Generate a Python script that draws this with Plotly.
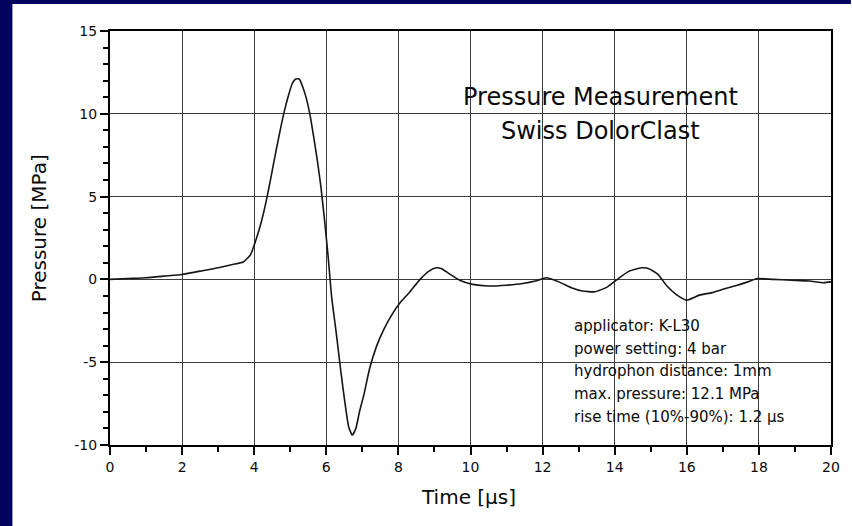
import plotly.graph_objects as go

# ---- data ----
time_us = [0, 0.5, 1.0, 1.5, 2.0, 2.5, 3.0, 3.4, 3.7, 3.9, 4.05, 4.2, 4.33, 4.45, 4.6, 4.72,
           4.83, 4.95, 5.05, 5.15, 5.25, 5.35, 5.45, 5.55, 5.65, 5.75, 5.85, 5.95, 6.05, 6.15,
           6.28, 6.4, 6.52, 6.62, 6.72, 6.82, 6.92, 7.05, 7.2, 7.4, 7.6, 7.8, 8.05, 8.3, 8.6,
           8.85, 9.05, 9.2, 9.4, 9.7, 10.06, 10.5, 11.0, 11.45, 11.8, 12.1, 12.45, 12.8, 13.1,
           13.45, 13.8, 14.1, 14.4, 14.75, 14.95, 15.2, 15.45, 15.7, 16.0, 16.35, 16.7, 17.0,
           17.4, 17.7, 17.95, 18.4, 18.9, 19.4, 19.8, 20.0]
pressure_mpa = [0.0, 0.05, 0.1, 0.2, 0.3, 0.5, 0.7, 0.9, 1.05, 1.5, 2.4, 3.5, 4.7, 6.0, 7.7, 9.0,
                10.1, 11.1, 11.8, 12.1, 12.1, 11.6, 10.9, 9.9, 8.6, 7.2, 5.6, 3.6, 1.4, -1.1,
                -3.3, -5.5, -7.5, -8.9, -9.4, -9.0, -8.0, -6.9, -5.4, -4.0, -3.0, -2.2, -1.4, -0.8, 0.0,
                0.5, 0.7, 0.65, 0.35, -0.05, -0.3, -0.4, -0.35, -0.25, -0.1, 0.1, -0.15, -0.5, -0.7,
                -0.75, -0.45, 0.05, 0.5, 0.7, 0.65, 0.3, -0.4, -0.9, -1.25, -0.95, -0.8, -0.6,
                -0.35, -0.15, 0.05, 0.0, -0.05, -0.1, -0.2, -0.15]

x_ticks = [0, 2, 4, 6, 8, 10, 12, 14, 16, 18, 20]
x_tick_text = ["0", "2", "4", "6", "8", "10", "12", "14", "16", "18", "20"]
y_ticks = [-10, -5, 0, 5, 10, 15]
y_tick_text = ["-10", "-5", "0", "5", "10", "15"]
title_lines = ["Pressure Measurement", "Swiss DolorClast"]
info_lines = ["applicator: K-L30", "power setting: 4 bar", "hydrophon distance: 1mm",
              "max. pressure: 12.1 MPa", "rise time (10%-90%): 1.2 µs"]
x_title = "Time [µs]"
y_title = "Pressure [MPa]"

# ---- layout geometry (pixels) ----
W, H = 852, 526
L, R, T, B = 110, 834, 31, 445
pw, ph = R - L, B - T


def px(xp):
    return (xp - L) / pw


def py(yp):
    return (B - yp) / ph


FONT = "DejaVu Sans"
NAVY = "#02025F"
INK = "#0a0a0a"

fig = go.Figure()
fig.add_trace(go.Scatter(x=time_us, y=pressure_mpa, mode="lines",
                         line=dict(color="#151515", width=1.6, shape="spline", smoothing=0.5),
                         showlegend=False, hoverinfo="skip"))

axis_common = dict(showline=True, linecolor="#000000", linewidth=2, mirror=True,
                   ticks="outside", tickcolor="#000000", tickwidth=1.5,
                   showgrid=True, gridcolor="#3c3c3c", gridwidth=1.2, zeroline=False,
                   tickfont=dict(family=FONT, size=14, color=INK))

fig.update_xaxes(range=[0, 20], tickvals=x_ticks, ticktext=x_tick_text, ticklen=8,
                 minor=dict(dtick=1, ticklen=5, tickcolor="#000000", ticks="outside", showgrid=False),
                 **axis_common)
fig.update_yaxes(range=[-10, 15], tickvals=y_ticks, ticktext=y_tick_text, ticklen=8,
                 minor=dict(dtick=1, ticklen=5, tickcolor="#000000", ticks="outside", showgrid=False),
                 **axis_common)

annotations = []
annotations.append(dict(text=x_title, x=px(470), y=py(497), xref="paper", yref="paper",
                        showarrow=False, font=dict(family=FONT, size=20, color=INK),
                        xanchor="center", yanchor="middle"))
annotations.append(dict(text=y_title, x=px(39), y=py(228), xref="paper", yref="paper",
                        showarrow=False, textangle=-90, font=dict(family=FONT, size=20, color=INK),
                        xanchor="center", yanchor="middle"))
for line, ypix in zip(title_lines, [97, 131]):
    annotations.append(dict(text=line, x=px(603), y=py(ypix), xref="paper", yref="paper",
                            showarrow=False, font=dict(family=FONT, size=24, color=INK),
                            xanchor="center", yanchor="middle"))
for i, line in enumerate(info_lines):
    annotations.append(dict(text=line, x=px(574), y=py(326 + 22.7 * i), xref="paper", yref="paper",
                            showarrow=False, font=dict(family=FONT, size=15, color=INK),
                            xanchor="left", yanchor="middle"))

shapes = [
    dict(type="rect", xref="paper", yref="paper", x0=px(-2), x1=px(12), y0=py(H + 2), y1=py(-2),
         fillcolor=NAVY, line=dict(width=0), layer="below"),
    dict(type="rect", xref="paper", yref="paper", x0=px(-2), x1=px(W + 2), y0=py(4), y1=py(-2),
         fillcolor=NAVY, line=dict(width=0), layer="below"),
]

fig.update_layout(width=W, height=H, margin=dict(l=L, r=W - R, t=T, b=H - B),
                  paper_bgcolor="white", plot_bgcolor="white",
                  annotations=annotations, shapes=shapes,
                  font=dict(family=FONT, color=INK))

fig.write_html("out.html",
               config={"displayModeBar": False},
               post_script=("document.body.style.margin='0';"
                            "document.body.style.overflow='hidden';"
                            "document.body.style.background='white';"
                            "document.documentElement.style.background='white';"))
